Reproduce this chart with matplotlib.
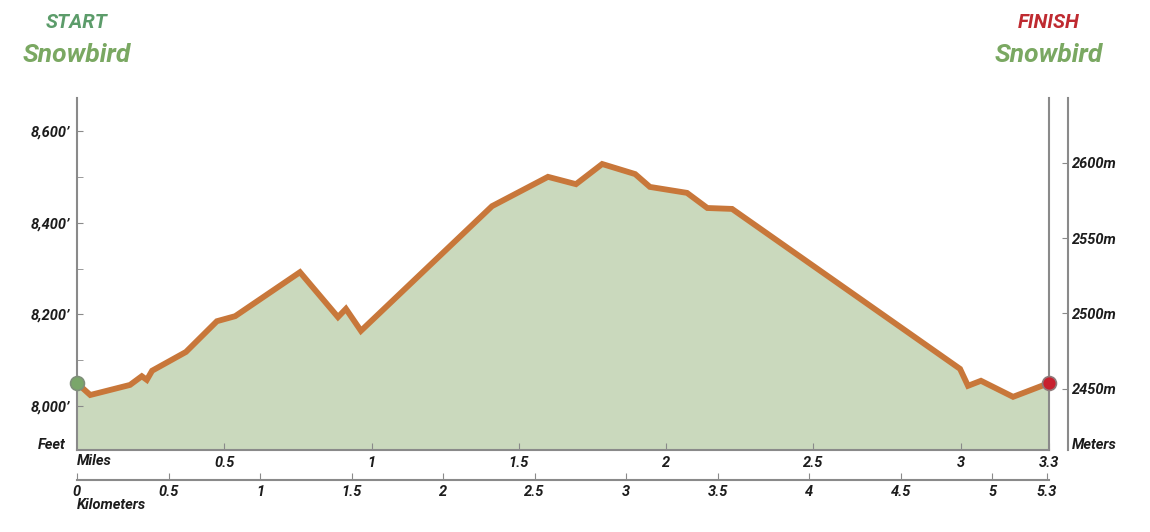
import matplotlib.pyplot as plt

# elevation profile
miles = [0, 0.045, 0.18, 0.22, 0.237, 0.255, 0.37, 0.475, 0.537, 0.757, 0.886, 0.913,
         0.964, 1.409, 1.599, 1.694, 1.783, 1.895, 1.945, 2.071, 2.140, 2.224, 2.998,
         3.025, 3.069, 3.178, 3.3]
feet = [8050, 8024, 8046, 8065, 8057, 8077, 8118, 8185, 8196, 8292, 8194, 8212,
        8164, 8436, 8500, 8484, 8528, 8506, 8478, 8465, 8432, 8430, 8081,
        8044, 8055, 8020, 8050]

feet_ticks = [8000, 8200, 8400, 8600]
meter_ticks = [2450, 2500, 2550, 2600]
mile_ticks = [0.5, 1, 1.5, 2, 2.5, 3, 3.3]
km_ticks = [0, 0.5, 1, 1.5, 2, 2.5, 3, 3.5, 4, 4.5, 5, 5.3]

FT2M = 0.3048
KM2MI = 1 / 1.609344

plt.rcParams['font.family'] = ['Roboto', 'DejaVu Sans']
plt.rcParams['font.weight'] = 'bold'
plt.rcParams['font.style'] = 'italic'

dark = '#1c1c1c'
grey = '#8a8a8a'

fig = plt.figure(figsize=(11.5, 5.32), dpi=100)
ax = fig.add_axes([77/1150, 1-450/532, 972/1150, 352/532])

ymin, ymax = 7904, 8672
ax.fill_between(miles, feet, ymin, color='#cad9bd', lw=0)
ax.plot(miles, feet, color='#c8773a', lw=4.2, solid_joinstyle='miter', zorder=3)
ax.plot(miles[0], feet[0], 'o', ms=10, mfc='#7aa66a', mec='#7f8f7a', mew=1.2, zorder=4, clip_on=False)
ax.plot(miles[-1], feet[-1], 'o', ms=10, mfc='#c8202e', mec='#8f7a7a', mew=1.2, zorder=4, clip_on=False)

ax.set_xlim(0, 3.3)
ax.set_ylim(ymin, ymax)

ax.spines['top'].set_visible(False)
for s in ['left', 'right', 'bottom']:
    ax.spines[s].set_color(grey)
    ax.spines[s].set_linewidth(1.5)

ax.set_yticks(feet_ticks)
ax.set_yticklabels([f"{v:,}\u2019" for v in feet_ticks])
ax.set_yticks([8100, 8300, 8500], minor=True)
ax.tick_params(axis='y', which='both', direction='in', length=4, color=grey, labelsize=10.5, labelcolor=dark, pad=5)

ax.set_xticks(mile_ticks)
ax.set_xticklabels([f"{v:g}" for v in mile_ticks])
ax.tick_params(axis='x', direction='in', length=5, color=grey, labelsize=10.5, labelcolor=dark, pad=4)

# meters axis
ax2 = ax.twinx()
ax2.set_ylim(ymin*FT2M, ymax*FT2M)
for s in ['top', 'left', 'bottom']:
    ax2.spines[s].set_visible(False)
ax2.spines['right'].set_position(('outward', 13.5))
ax2.spines['right'].set_color(grey)
ax2.spines['right'].set_linewidth(1.5)
ax2.set_yticks(meter_ticks)
ax2.set_yticklabels([f"{v}m" for v in meter_ticks])
ax2.tick_params(axis='y', direction='in', length=4, color=grey, labelsize=10.5, labelcolor=dark, pad=3)

# kilometers axis
sec = ax.secondary_xaxis(-0.085, functions=(lambda m: m / KM2MI, lambda k: k * KM2MI))
sec.set_xticks(km_ticks)
sec.set_xticklabels([f"{v:g}" for v in km_ticks])
sec.spines['bottom'].set_color(grey)
sec.spines['bottom'].set_linewidth(1.5)
sec.tick_params(axis='x', direction='in', length=5, color=grey, labelsize=10.5, labelcolor=dark, pad=4)

fig.text(66/1150, 1-445/532, 'Feet', ha='right', va='center', fontsize=10.5, color=dark)
fig.text(1072/1150, 1-445/532, 'Meters', ha='left', va='center', fontsize=10.5, color=dark)
fig.text(77/1150, 1-461/532, 'Miles', ha='left', va='center', fontsize=10.5, color=dark)
fig.text(77/1150, 1-505/532, 'Kilometers', ha='left', va='center', fontsize=10.5, color=dark)

fig.text(77/1150, 1-22/532, 'START', ha='center', va='center', fontsize=14.5, color='#5c9c6a')
fig.text(77/1150, 1-55/532, 'Snowbird', ha='center', va='center', fontsize=19, color='#7aa862')
fig.text(1049/1150, 1-22/532, 'FINISH', ha='center', va='center', fontsize=14.5, color='#bf2a30')
fig.text(1049/1150, 1-55/532, 'Snowbird', ha='center', va='center', fontsize=19, color='#7aa862')

fig.savefig('out.png', dpi=100)
